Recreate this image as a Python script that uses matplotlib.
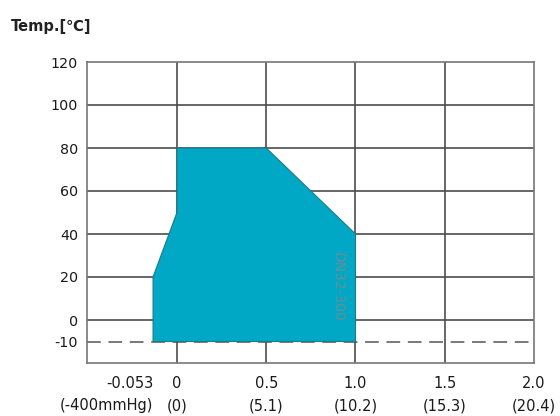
import numpy as np
import matplotlib
matplotlib.use("Agg")
import matplotlib.pyplot as plt

plt.rcParams['font.family'] = ['DejaVu Sans']

# Data
region_x = [-0.053, -0.053, 0.0, 0.0, 0.5, 1.0, 1.0]
region_y = [-10, 20, 50, 80, 80, 40, -10]
x_ticks = [-0.053, 0.0, 0.5, 1.0, 1.5, 2.0]
x_labels = ["-0.053\n(-400mmHg)", "0\n(0)", "0.5\n(5.1)", "1.0\n(10.2)", "1.5\n(15.3)", "2.0\n(20.4)"]
x_grid = [0.0, 0.5, 1.0, 1.5]
y_ticks = [-10, 0, 20, 40, 60, 80, 100, 120]
y_grid = [0, 20, 40, 60, 80, 100]
min_temp = -10
series_label = "DN32-300"
y_title = "Temp.[℃]"

K = 0.134 / 0.053
def fwd(x):
    x = np.asarray(x, dtype=float)
    return np.where(x < 0, x * K, x)
def inv(x):
    x = np.asarray(x, dtype=float)
    return np.where(x < 0, x / K, x)

fig = plt.figure(figsize=(5.6, 4.16), dpi=100)
ax = fig.add_axes([87/560, 1-363/416, (534-87)/560, (363-62)/416])
ax.set_xscale('function', functions=(fwd, inv))
ax.set_xlim(-0.504 / K, 2.0)
ax.set_ylim(-20, 120)

gc = '#4d4d4d'
for gx in x_grid:
    ax.axvline(gx, color=gc, lw=1.2, zorder=1)
for gy in y_grid:
    ax.axhline(gy, color=gc, lw=1.2, zorder=1)
ax.axhline(min_temp, color='#555555', lw=1.1, ls=(0, (9, 5)), zorder=1)

ax.fill(region_x, region_y, facecolor='#00A8C6', edgecolor='#167d8c', lw=0.8, zorder=2)

ax.text(0.90, 15.4, series_label, rotation=270, ha='center', va='center',
        fontsize=10, color='#6a8e96', zorder=3)

for s in ax.spines.values():
    s.set_color('#777777')
    s.set_linewidth(1.2)

ax.set_xticks(x_ticks)
ax.set_xticklabels(x_labels, fontsize=10.5, linespacing=1.6, color='#1a1a1a')
ax.set_yticks(y_ticks)
ax.set_yticklabels([str(v) for v in y_ticks], fontsize=10.3, color='#1a1a1a')
ax.tick_params(axis='both', length=0)
ax.tick_params(axis='y', pad=6.5)
ax.tick_params(axis='x', pad=9.5)
lbls = ax.get_xticklabels()
lbls[0].set_ha('right')
lbls[0].set_multialignment('right')

fig.text(11/560, 1-26/416, y_title, fontsize=10.5, fontweight='bold', ha='left', va='center', color='#222222')

fig.savefig('out.png', dpi=100)
